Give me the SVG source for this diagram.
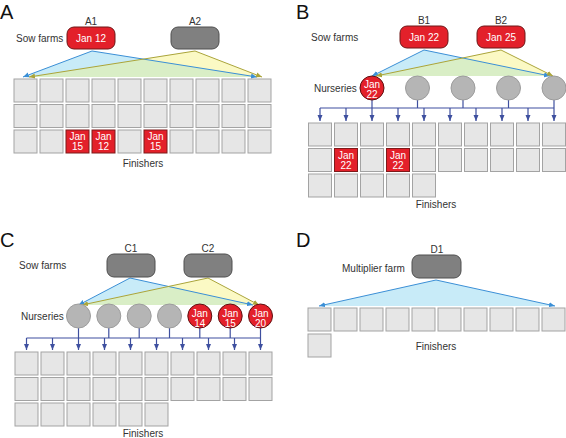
<svg xmlns="http://www.w3.org/2000/svg" width="566" height="438" viewBox="0 0 566 438">
<style>
.cell{fill:#e6e6e6;stroke:#a3a3a3;stroke-width:1}
.rcell{fill:#e3202a;stroke:#7d1a1a;stroke-width:1}
.rbox{fill:#e3202a;stroke:#6e1616;stroke-width:1}
.gbox{fill:#808080;stroke:#4f4f4f;stroke-width:1}
.gcirc{fill:#b5b5b5;stroke:#9c9c9c;stroke-width:1}
.rcirc{fill:#e3202a;stroke:#5e1010;stroke-width:1}
text{font-family:"Liberation Sans",Arial,sans-serif;font-size:10px;fill:#333}
.w{fill:#fff;text-anchor:middle}
.m{text-anchor:middle}
.big{font-size:20px;fill:#111}
.bl{stroke:#3b8fd6;stroke-width:1;fill:none;marker-end:url(#ab)}
.yl{stroke:#aaa43a;stroke-width:1;fill:none;marker-end:url(#ay)}
.nv{stroke:#3e4f9f;stroke-width:1.2;fill:none}
.nva{stroke:#3e4f9f;stroke-width:1.2;fill:none;marker-end:url(#an)}
.bf{fill:#c8ebf8}
.yf{fill:#fbf9c4}
.gf{fill:#d9eec6}
</style>
<defs>
<marker id="ab" markerUnits="userSpaceOnUse" markerWidth="6" markerHeight="6" viewBox="0 0 6 6" refX="6" refY="3" orient="auto"><path d="M0,0.5 L6,3 L0,5.5 z" fill="#3b8fd6"/></marker>
<marker id="ay" markerUnits="userSpaceOnUse" markerWidth="6" markerHeight="6" viewBox="0 0 6 6" refX="6" refY="3" orient="auto"><path d="M0,0.5 L6,3 L0,5.5 z" fill="#aaa43a"/></marker>
<marker id="an" markerUnits="userSpaceOnUse" markerWidth="6" markerHeight="6" viewBox="0 0 6 6" refX="6" refY="3" orient="auto"><path d="M0,0.5 L6,3 L0,5.5 z" fill="#3e4f9f"/></marker>
<clipPath id="cA"><polygon points="92,51 23,77 257,77"/></clipPath>
<clipPath id="cB"><polygon points="424,50 372,76 550,76"/></clipPath>
<clipPath id="cC"><polygon points="130,278 78.5,305 253,305"/></clipPath>
</defs>

<!-- Panel labels and row labels -->
<text x="0" y="19" class="big">A</text>
<text x="296" y="19" class="big">B</text>
<text x="0" y="247" class="big">C</text>
<text x="296" y="247" class="big">D</text>
<text x="16" y="42">Sow farms</text>
<text x="311" y="41">Sow farms</text>
<text x="314" y="91.5">Nurseries</text>
<text x="19" y="268.5">Sow farms</text>
<text x="21" y="319.5">Nurseries</text>
<text x="342" y="271.5">Multiplier farm</text>
<text x="143" y="166.5" class="m">Finishers</text>
<text x="436" y="208" class="m">Finishers</text>
<text x="143" y="437" class="m">Finishers</text>
<text x="436" y="349.5" class="m">Finishers</text>

<!-- Connectors -->
<g id="connectors">
<!-- A -->
<polygon class="bf" points="92,51 23,77 257,77"/>
<polygon class="yf" points="195,51 29,77 262,77"/>
<polygon class="gf" points="195,51 29,77 262,77" clip-path="url(#cA)"/>
<line class="bl" x1="92" y1="51" x2="23" y2="77"/>
<line class="bl" x1="92" y1="51" x2="257" y2="77"/>
<line class="yl" x1="195" y1="51" x2="29" y2="77"/>
<line class="yl" x1="195" y1="51" x2="262" y2="77"/>
<!-- B -->
<polygon class="bf" points="424,50 372,76 550,76"/>
<polygon class="yf" points="501,50 376,76 553,76"/>
<polygon class="gf" points="501,50 376,76 553,76" clip-path="url(#cB)"/>
<line class="bl" x1="424" y1="50" x2="372" y2="76"/>
<line class="bl" x1="424" y1="50" x2="550" y2="76"/>
<line class="yl" x1="501" y1="50" x2="376" y2="76"/>
<line class="yl" x1="501" y1="50" x2="553" y2="76"/>
<line class="nv" x1="320" y1="108" x2="554" y2="108"/>
<line class="nv" x1="417.5" y1="100" x2="417.5" y2="108"/>
<line class="nv" x1="463" y1="100" x2="463" y2="108"/>
<line class="nv" x1="508.5" y1="100" x2="508.5" y2="108"/>
<line class="nv" x1="372" y1="100" x2="372" y2="108"/>
<line class="nv" x1="554" y1="100" x2="554" y2="108"/>
<line class="nva" x1="320" y1="108" x2="320" y2="121"/>
<line class="nva" x1="346" y1="108" x2="346" y2="121"/>
<line class="nva" x1="372" y1="108" x2="372" y2="121"/>
<line class="nva" x1="398" y1="108" x2="398" y2="121"/>
<line class="nva" x1="424" y1="108" x2="424" y2="121"/>
<line class="nva" x1="450" y1="108" x2="450" y2="121"/>
<line class="nva" x1="476" y1="108" x2="476" y2="121"/>
<line class="nva" x1="502" y1="108" x2="502" y2="121"/>
<line class="nva" x1="528" y1="108" x2="528" y2="121"/>
<line class="nva" x1="554" y1="108" x2="554" y2="121"/>
<!-- C -->
<polygon class="bf" points="130,278 78.5,305 253,305"/>
<polygon class="yf" points="208,278 82,305 259,305"/>
<polygon class="gf" points="208,278 82,305 259,305" clip-path="url(#cC)"/>
<line class="bl" x1="130" y1="278" x2="78.5" y2="305"/>
<line class="bl" x1="130" y1="278" x2="253" y2="305"/>
<line class="yl" x1="208" y1="278" x2="82" y2="305"/>
<line class="yl" x1="208" y1="278" x2="259" y2="305"/>
<line class="nv" x1="26.5" y1="338" x2="260.5" y2="338"/>
<line class="nv" x1="78.5" y1="328" x2="78.5" y2="338"/>
<line class="nv" x1="108.8" y1="328" x2="108.8" y2="338"/>
<line class="nv" x1="139.2" y1="328" x2="139.2" y2="338"/>
<line class="nv" x1="169.5" y1="328" x2="169.5" y2="338"/>
<line class="nv" x1="199.8" y1="328" x2="199.8" y2="338"/>
<line class="nv" x1="230.2" y1="328" x2="230.2" y2="338"/>
<line class="nv" x1="260.5" y1="328" x2="260.5" y2="338"/>
<line class="nva" x1="26.5" y1="338" x2="26.5" y2="350"/>
<line class="nva" x1="52.5" y1="338" x2="52.5" y2="350"/>
<line class="nva" x1="78.5" y1="338" x2="78.5" y2="350"/>
<line class="nva" x1="104.5" y1="338" x2="104.5" y2="350"/>
<line class="nva" x1="130.5" y1="338" x2="130.5" y2="350"/>
<line class="nva" x1="156.5" y1="338" x2="156.5" y2="350"/>
<line class="nva" x1="182.5" y1="338" x2="182.5" y2="350"/>
<line class="nva" x1="208.5" y1="338" x2="208.5" y2="350"/>
<line class="nva" x1="234.5" y1="338" x2="234.5" y2="350"/>
<line class="nva" x1="260.5" y1="338" x2="260.5" y2="350"/>
<!-- D -->
<polygon class="bf" points="436,280 319,306 555,306"/>
<line class="bl" x1="436" y1="280" x2="319" y2="306"/>
<line class="bl" x1="436" y1="280" x2="555" y2="306"/>
</g>

<!-- Sow farm / multiplier nodes -->
<g id="A1"><text x="91" y="25" class="m">A1</text><rect class="rbox" x="67" y="27" width="48" height="22" rx="7"/><text x="91" y="41.5" class="w">Jan 12</text></g>
<g id="A2"><text x="195" y="25" class="m">A2</text><rect class="gbox" x="171" y="27" width="48" height="22" rx="7"/></g>
<g id="B1"><text x="424" y="24" class="m">B1</text><rect class="rbox" x="400" y="26" width="48" height="22" rx="7"/><text x="424" y="40.5" class="w">Jan 22</text></g>
<g id="B2"><text x="501" y="24" class="m">B2</text><rect class="rbox" x="477" y="26" width="48" height="22" rx="7"/><text x="501" y="40.5" class="w">Jan 25</text></g>
<g id="C1"><text x="131" y="252" class="m">C1</text><rect class="gbox" x="107" y="254" width="48" height="23" rx="7"/></g>
<g id="C2"><text x="208" y="252" class="m">C2</text><rect class="gbox" x="184" y="254" width="48" height="23" rx="7"/></g>
<g id="D1"><text x="437" y="253" class="m">D1</text><rect class="gbox" x="412" y="255" width="49" height="23" rx="7"/></g>

<!-- Nurseries B -->
<g id="B-n1"><circle class="rcirc" cx="372" cy="88" r="12"/><text x="372" y="88" class="w">Jan</text><text x="372" y="98" class="w">22</text></g>
<g id="B-n2"><circle class="gcirc" cx="417.5" cy="88" r="12"/></g>
<g id="B-n3"><circle class="gcirc" cx="463" cy="88" r="12"/></g>
<g id="B-n4"><circle class="gcirc" cx="508.5" cy="88" r="12"/></g>
<g id="B-n5"><circle class="gcirc" cx="554" cy="88" r="12"/></g>

<!-- Nurseries C -->
<g id="C-n1"><circle class="gcirc" cx="78.5" cy="316" r="12"/></g>
<g id="C-n2"><circle class="gcirc" cx="108.8" cy="316" r="12"/></g>
<g id="C-n3"><circle class="gcirc" cx="139.2" cy="316" r="12"/></g>
<g id="C-n4"><circle class="gcirc" cx="169.5" cy="316" r="12"/></g>
<g id="C-n5"><circle class="rcirc" cx="199.8" cy="316" r="12"/><text x="199.8" y="316.5" class="w">Jan</text><text x="199.8" y="326.5" class="w">14</text></g>
<g id="C-n6"><circle class="rcirc" cx="230.2" cy="316" r="12"/><text x="230.2" y="316.5" class="w">Jan</text><text x="230.2" y="326.5" class="w">15</text></g>
<g id="C-n7"><circle class="rcirc" cx="260.5" cy="316" r="12"/><text x="260.5" y="316.5" class="w">Jan</text><text x="260.5" y="326.5" class="w">20</text></g>

<!-- Finishers A -->
<g id="A-f1-1"><rect class="cell" x="14" y="79" width="23" height="23"/></g>
<g id="A-f1-2"><rect class="cell" x="40" y="79" width="23" height="23"/></g>
<g id="A-f1-3"><rect class="cell" x="66" y="79" width="23" height="23"/></g>
<g id="A-f1-4"><rect class="cell" x="92" y="79" width="23" height="23"/></g>
<g id="A-f1-5"><rect class="cell" x="118" y="79" width="23" height="23"/></g>
<g id="A-f1-6"><rect class="cell" x="144" y="79" width="23" height="23"/></g>
<g id="A-f1-7"><rect class="cell" x="170" y="79" width="23" height="23"/></g>
<g id="A-f1-8"><rect class="cell" x="196" y="79" width="23" height="23"/></g>
<g id="A-f1-9"><rect class="cell" x="222" y="79" width="23" height="23"/></g>
<g id="A-f1-10"><rect class="cell" x="248" y="79" width="23" height="23"/></g>
<g id="A-f2-1"><rect class="cell" x="14" y="104.5" width="23" height="23"/></g>
<g id="A-f2-2"><rect class="cell" x="40" y="104.5" width="23" height="23"/></g>
<g id="A-f2-3"><rect class="cell" x="66" y="104.5" width="23" height="23"/></g>
<g id="A-f2-4"><rect class="cell" x="92" y="104.5" width="23" height="23"/></g>
<g id="A-f2-5"><rect class="cell" x="118" y="104.5" width="23" height="23"/></g>
<g id="A-f2-6"><rect class="cell" x="144" y="104.5" width="23" height="23"/></g>
<g id="A-f2-7"><rect class="cell" x="170" y="104.5" width="23" height="23"/></g>
<g id="A-f2-8"><rect class="cell" x="196" y="104.5" width="23" height="23"/></g>
<g id="A-f2-9"><rect class="cell" x="222" y="104.5" width="23" height="23"/></g>
<g id="A-f2-10"><rect class="cell" x="248" y="104.5" width="23" height="23"/></g>
<g id="A-f3-1"><rect class="cell" x="14" y="130" width="23" height="23"/></g>
<g id="A-f3-2"><rect class="cell" x="40" y="130" width="23" height="23"/></g>
<g id="A-f3-3"><rect class="rcell" x="66" y="130" width="23" height="23"/><text x="77.5" y="140" class="w">Jan</text><text x="77.5" y="150" class="w">15</text></g>
<g id="A-f3-4"><rect class="rcell" x="92" y="130" width="23" height="23"/><text x="103.5" y="140" class="w">Jan</text><text x="103.5" y="150" class="w">12</text></g>
<g id="A-f3-5"><rect class="cell" x="118" y="130" width="23" height="23"/></g>
<g id="A-f3-6"><rect class="rcell" x="144" y="130" width="23" height="23"/><text x="155.5" y="140" class="w">Jan</text><text x="155.5" y="150" class="w">15</text></g>
<g id="A-f3-7"><rect class="cell" x="170" y="130" width="23" height="23"/></g>
<g id="A-f3-8"><rect class="cell" x="196" y="130" width="23" height="23"/></g>
<g id="A-f3-9"><rect class="cell" x="222" y="130" width="23" height="23"/></g>
<g id="A-f3-10"><rect class="cell" x="248" y="130" width="23" height="23"/></g>

<!-- Finishers B -->
<g id="B-f1-1"><rect class="cell" x="308.5" y="123" width="23" height="23"/></g>
<g id="B-f1-2"><rect class="cell" x="334.5" y="123" width="23" height="23"/></g>
<g id="B-f1-3"><rect class="cell" x="360.5" y="123" width="23" height="23"/></g>
<g id="B-f1-4"><rect class="cell" x="386.5" y="123" width="23" height="23"/></g>
<g id="B-f1-5"><rect class="cell" x="412.5" y="123" width="23" height="23"/></g>
<g id="B-f1-6"><rect class="cell" x="438.5" y="123" width="23" height="23"/></g>
<g id="B-f1-7"><rect class="cell" x="464.5" y="123" width="23" height="23"/></g>
<g id="B-f1-8"><rect class="cell" x="490.5" y="123" width="23" height="23"/></g>
<g id="B-f1-9"><rect class="cell" x="516.5" y="123" width="23" height="23"/></g>
<g id="B-f1-10"><rect class="cell" x="542.5" y="123" width="23" height="23"/></g>
<g id="B-f2-1"><rect class="cell" x="308.5" y="148.5" width="23" height="23"/></g>
<g id="B-f2-2"><rect class="rcell" x="334.5" y="148.5" width="23" height="23"/><text x="346" y="158.5" class="w">Jan</text><text x="346" y="168.5" class="w">22</text></g>
<g id="B-f2-3"><rect class="cell" x="360.5" y="148.5" width="23" height="23"/></g>
<g id="B-f2-4"><rect class="rcell" x="386.5" y="148.5" width="23" height="23"/><text x="398" y="158.5" class="w">Jan</text><text x="398" y="168.5" class="w">22</text></g>
<g id="B-f2-5"><rect class="cell" x="412.5" y="148.5" width="23" height="23"/></g>
<g id="B-f2-6"><rect class="cell" x="438.5" y="148.5" width="23" height="23"/></g>
<g id="B-f2-7"><rect class="cell" x="464.5" y="148.5" width="23" height="23"/></g>
<g id="B-f2-8"><rect class="cell" x="490.5" y="148.5" width="23" height="23"/></g>
<g id="B-f2-9"><rect class="cell" x="516.5" y="148.5" width="23" height="23"/></g>
<g id="B-f2-10"><rect class="cell" x="542.5" y="148.5" width="23" height="23"/></g>
<g id="B-f3-1"><rect class="cell" x="308.5" y="174" width="23" height="23"/></g>
<g id="B-f3-2"><rect class="cell" x="334.5" y="174" width="23" height="23"/></g>
<g id="B-f3-3"><rect class="cell" x="360.5" y="174" width="23" height="23"/></g>
<g id="B-f3-4"><rect class="cell" x="386.5" y="174" width="23" height="23"/></g>
<g id="B-f3-5"><rect class="cell" x="412.5" y="174" width="23" height="23"/></g>

<!-- Finishers C -->
<g id="C-f1-1"><rect class="cell" x="15" y="352" width="23" height="23"/></g>
<g id="C-f1-2"><rect class="cell" x="41" y="352" width="23" height="23"/></g>
<g id="C-f1-3"><rect class="cell" x="67" y="352" width="23" height="23"/></g>
<g id="C-f1-4"><rect class="cell" x="93" y="352" width="23" height="23"/></g>
<g id="C-f1-5"><rect class="cell" x="119" y="352" width="23" height="23"/></g>
<g id="C-f1-6"><rect class="cell" x="145" y="352" width="23" height="23"/></g>
<g id="C-f1-7"><rect class="cell" x="171" y="352" width="23" height="23"/></g>
<g id="C-f1-8"><rect class="cell" x="197" y="352" width="23" height="23"/></g>
<g id="C-f1-9"><rect class="cell" x="223" y="352" width="23" height="23"/></g>
<g id="C-f1-10"><rect class="cell" x="249" y="352" width="23" height="23"/></g>
<g id="C-f2-1"><rect class="cell" x="15" y="377.5" width="23" height="23"/></g>
<g id="C-f2-2"><rect class="cell" x="41" y="377.5" width="23" height="23"/></g>
<g id="C-f2-3"><rect class="cell" x="67" y="377.5" width="23" height="23"/></g>
<g id="C-f2-4"><rect class="cell" x="93" y="377.5" width="23" height="23"/></g>
<g id="C-f2-5"><rect class="cell" x="119" y="377.5" width="23" height="23"/></g>
<g id="C-f2-6"><rect class="cell" x="145" y="377.5" width="23" height="23"/></g>
<g id="C-f2-7"><rect class="cell" x="171" y="377.5" width="23" height="23"/></g>
<g id="C-f2-8"><rect class="cell" x="197" y="377.5" width="23" height="23"/></g>
<g id="C-f2-9"><rect class="cell" x="223" y="377.5" width="23" height="23"/></g>
<g id="C-f2-10"><rect class="cell" x="249" y="377.5" width="23" height="23"/></g>
<g id="C-f3-1"><rect class="cell" x="15" y="403" width="23" height="23"/></g>
<g id="C-f3-2"><rect class="cell" x="41" y="403" width="23" height="23"/></g>
<g id="C-f3-3"><rect class="cell" x="67" y="403" width="23" height="23"/></g>
<g id="C-f3-4"><rect class="cell" x="93" y="403" width="23" height="23"/></g>
<g id="C-f3-5"><rect class="cell" x="119" y="403" width="23" height="23"/></g>
<g id="C-f3-6"><rect class="cell" x="145" y="403" width="23" height="23"/></g>

<!-- Finishers D -->
<g id="D-f1-1"><rect class="cell" x="308" y="308" width="23" height="23"/></g>
<g id="D-f1-2"><rect class="cell" x="334" y="308" width="23" height="23"/></g>
<g id="D-f1-3"><rect class="cell" x="360" y="308" width="23" height="23"/></g>
<g id="D-f1-4"><rect class="cell" x="386" y="308" width="23" height="23"/></g>
<g id="D-f1-5"><rect class="cell" x="412" y="308" width="23" height="23"/></g>
<g id="D-f1-6"><rect class="cell" x="438" y="308" width="23" height="23"/></g>
<g id="D-f1-7"><rect class="cell" x="464" y="308" width="23" height="23"/></g>
<g id="D-f1-8"><rect class="cell" x="490" y="308" width="23" height="23"/></g>
<g id="D-f1-9"><rect class="cell" x="516" y="308" width="23" height="23"/></g>
<g id="D-f1-10"><rect class="cell" x="542" y="308" width="23" height="23"/></g>
<g id="D-f2-1"><rect class="cell" x="308" y="334" width="23" height="23"/></g>
</svg>
